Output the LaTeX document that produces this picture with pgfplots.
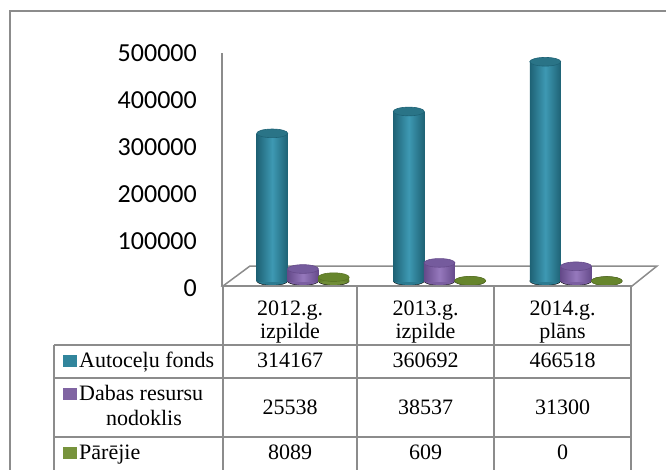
\documentclass[border=0pt]{standalone}
\usepackage{fontspec}
\setmainfont{Liberation Serif}
\newfontfamily\carlito{Carlito}
\usepackage{pgfplots}
\pgfplotsset{compat=1.18}
\usepackage{pgfplotstable}

\definecolor{tealD}{HTML}{1E6275}
\definecolor{tealL}{HTML}{3E99B3}
\definecolor{tealT}{HTML}{2A7487}
\definecolor{purD}{HTML}{654A8A}
\definecolor{purL}{HTML}{9679BD}
\definecolor{purT}{HTML}{755B9D}
\definecolor{grnD}{HTML}{5B7626}
\definecolor{grnL}{HTML}{89AA4C}
\definecolor{grnT}{HTML}{66852C}
\definecolor{gridc}{HTML}{8C8C8C}
\definecolor{tealS}{HTML}{31859C}
\definecolor{purS}{HTML}{8064A2}
\definecolor{grnS}{HTML}{77933C}

% cat = category index (0: 2012.g. izpilde, 1: 2013.g. izpilde, 2: 2014.g. plans)
\pgfplotstableread{
cat val
0 314167
1 360692
2 466518
}\autocelu
\pgfplotstableread{
cat val
0 25538
1 38537
2 31300
}\dabas
\pgfplotstableread{
cat val
0 8089
1 609
2 0
}\parejie

\pgfplotsset{
  cyl bottom/.style={only marks, mark=*, mark size=15.5pt, mark options={yscale=0.28, fill=#1, draw=none}},
  cyl body/.style 2 args={ybar, bar width=31pt, bar shift=0pt, draw=none, left color=#1, right color=#1, middle color=#2},
  cyl top/.style 2 args={only marks, mark=*, mark size=15.5pt, mark options={yscale=0.28, fill=#1, draw=#2, line width=0.6pt}},
}

\begin{document}
\begin{tikzpicture}
\path[use as bounding box] (0,0) rectangle (666pt,-469pt);
\clip (0,0) rectangle (666pt,-469pt);
% outer frame
\draw[gridc, line width=2pt] (10pt,-11pt) rectangle (700pt,-520pt);
% floor
\draw[gridc, line width=1.5pt, fill=white, line join=miter] (223pt,-286pt) -- (250pt,-266pt) -- (657pt,-266pt) -- (632pt,-286pt) -- cycle;
% wall edge
\draw[gridc, line width=2pt] (222pt,-53pt) -- (222pt,-286pt);

\begin{axis}[
  scale only axis, width=434pt, height=235pt,
  at={(222pt,-281pt)}, anchor=south west,
  xmin=-0.593, xmax=2.586, ymin=0, ymax=500000,
  clip=false, clip mode=individual,
  axis lines=left, axis line style={draw=none},
  xtick=\empty,
  ytick={0,100000,200000,300000,400000,500000},
  major tick length=0pt, tick style={draw=none},
  scaled y ticks=false,
  yticklabel style={/pgf/number format/fixed, /pgf/number format/1000 sep={},
    /pgf/number format/assume math mode=true,
    font=\carlito\fontsize{26}{26}\selectfont, inner sep=0pt, xshift=-25pt, yshift=-7pt},
]
% Autocelu fonds
\addplot[cyl bottom=tealD!55!tealL] table[x expr=\thisrow{cat}-0.225, y expr=0] {\autocelu};
\pgfplotsinvokeforeach{0,1,2}{
  \addplot[cyl body={tealD}{tealL}, restrict expr to domain={\coordindex}{#1:#1}]
    table[x expr=\thisrow{cat}-0.225, y=val] {\autocelu};
}
\addplot[cyl top={tealT}{tealD}] table[x expr=\thisrow{cat}-0.225, y=val] {\autocelu};
% Dabas resursu nodoklis
\addplot[cyl bottom=purD!55!purL] table[x expr=\thisrow{cat}, y expr=0] {\dabas};
\pgfplotsinvokeforeach{0,1,2}{
  \addplot[cyl body={purD}{purL}, restrict expr to domain={\coordindex}{#1:#1}]
    table[x expr=\thisrow{cat}, y=val] {\dabas};
}
\addplot[cyl top={purT}{purD}] table[x expr=\thisrow{cat}, y=val] {\dabas};
% Parejie
\addplot[cyl bottom=grnD!55!grnL] table[x expr=\thisrow{cat}+0.225, y expr=0] {\parejie};
\pgfplotsinvokeforeach{0,1,2}{
  \addplot[cyl body={grnD}{grnL}, restrict expr to domain={\coordindex}{#1:#1}]
    table[x expr=\thisrow{cat}+0.225, y=val] {\parejie};
}
\addplot[cyl top={grnT}{grnD}] table[x expr=\thisrow{cat}+0.225, y=val] {\parejie};
\end{axis}

% data table grid
\begin{scope}[gridc, line width=2pt]
\draw (223pt,-286pt) -- (632pt,-286pt);
\foreach \x in {223,357,494,631} \draw (\x pt,-286pt) -- (\x pt,-480pt);
\draw (54pt,-345pt) -- (54pt,-480pt);
\foreach \y in {345,378,437} \draw (54pt,-\y pt) -- (631pt,-\y pt);
\end{scope}

\begin{scope}[every node/.style={font=\fontsize{22}{22}\selectfont, inner sep=0pt}]
% header
\node[anchor=base] at (290pt,-315pt) {2012.g.};
\node[anchor=base] at (290pt,-338pt) {izpilde};
\node[anchor=base] at (425.5pt,-315pt) {2013.g.};
\node[anchor=base] at (425.5pt,-338pt) {izpilde};
\node[anchor=base] at (562.5pt,-315pt) {2014.g.};
\node[anchor=base] at (562.5pt,-338pt) {plāns};
% legend column
\node[anchor=base west] at (63pt,-367pt) {\textcolor{tealS}{\rule{14pt}{12pt}}\hspace{2pt}Autoceļu fonds};
\node[anchor=base west] at (63pt,-400pt) {\textcolor{purS}{\rule{14pt}{12pt}}\hspace{2pt}Dabas resursu};
\node[anchor=base] at (144pt,-425pt) {nodoklis};
\node[anchor=base west] at (63pt,-459pt) {\textcolor{grnS}{\rule{14pt}{12pt}}\hspace{2pt}Pārējie};
% values
\node[anchor=base] at (290pt,-367pt) {314167};
\node[anchor=base] at (425.5pt,-367pt) {360692};
\node[anchor=base] at (562.5pt,-367pt) {466518};
\node[anchor=base] at (290pt,-414pt) {25538};
\node[anchor=base] at (425.5pt,-414pt) {38537};
\node[anchor=base] at (562.5pt,-414pt) {31300};
\node[anchor=base] at (290pt,-459pt) {8089};
\node[anchor=base] at (425.5pt,-459pt) {609};
\node[anchor=base] at (562.5pt,-459pt) {0};
\end{scope}
\end{tikzpicture}
\end{document}
